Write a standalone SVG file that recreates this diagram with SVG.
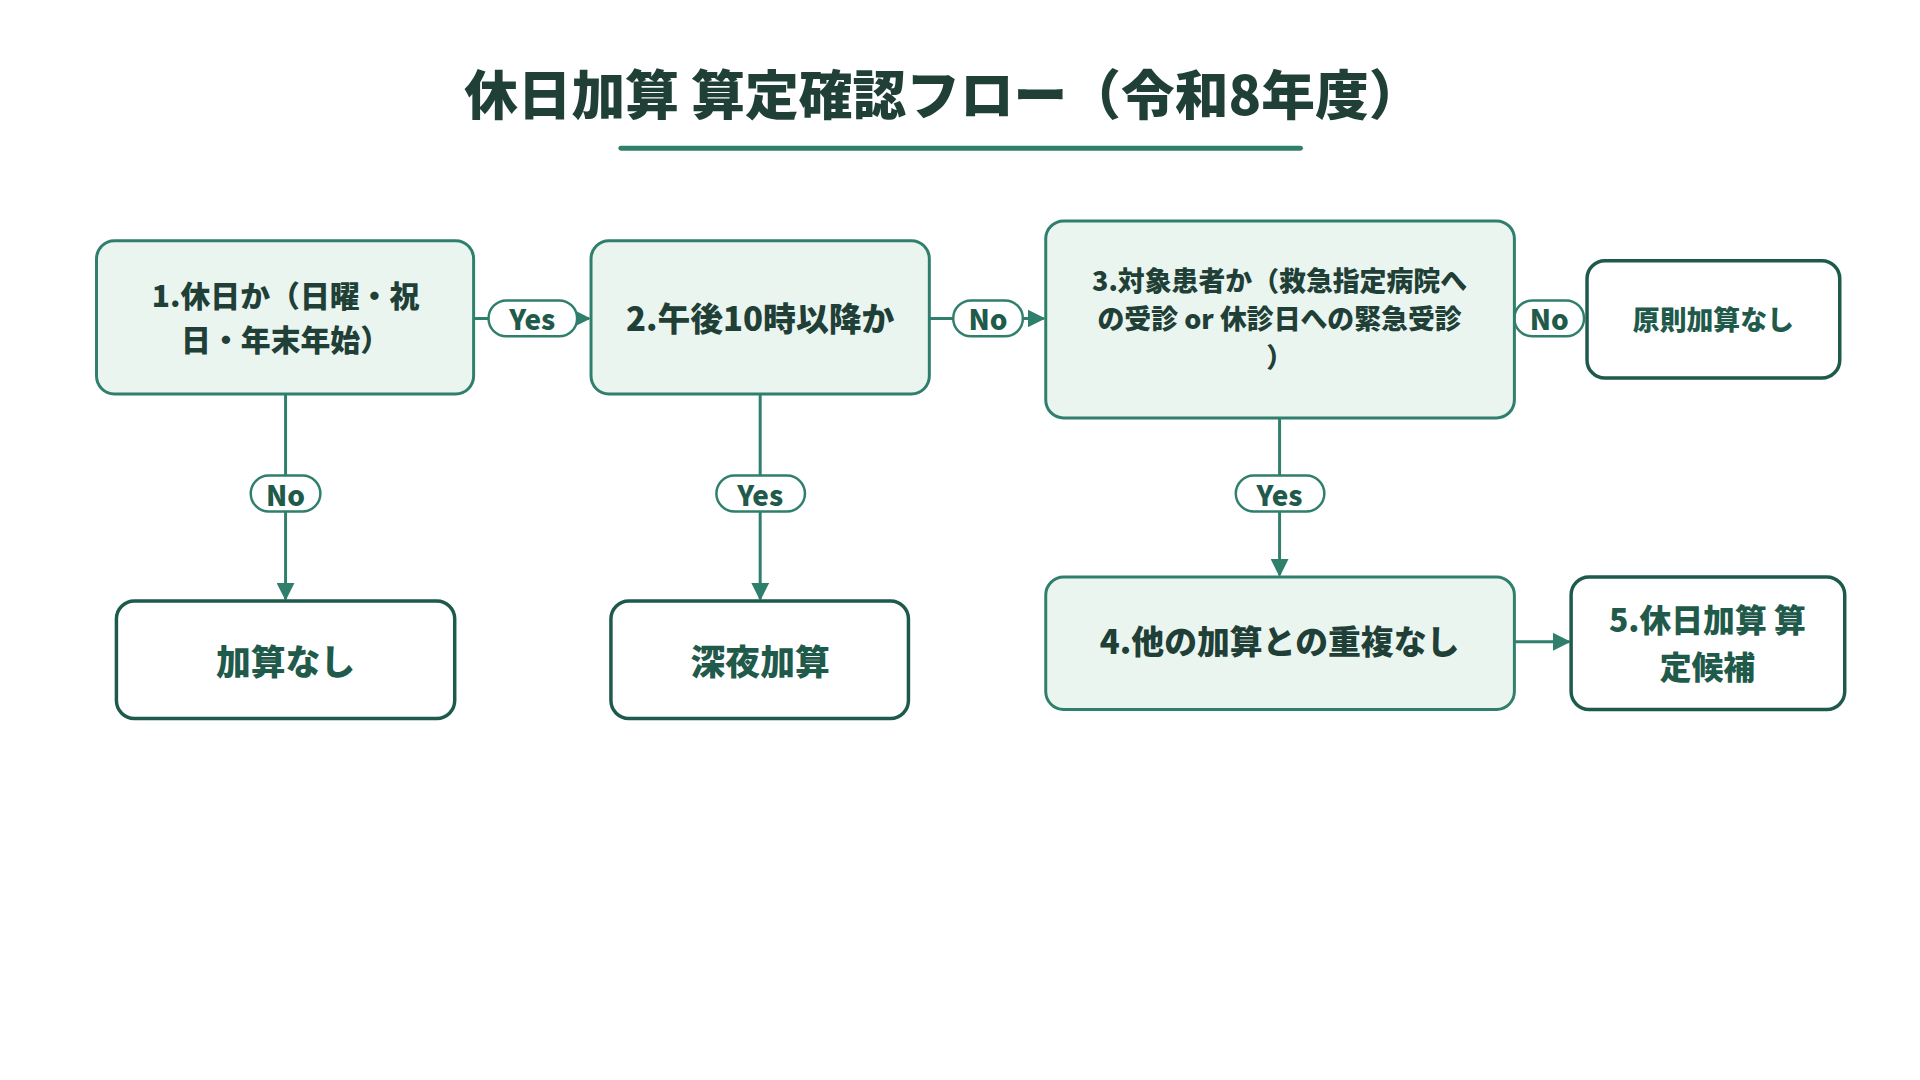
<svg xmlns="http://www.w3.org/2000/svg" width="1920" height="1080" viewBox="0 0 1920 1080">
<defs>
<style>
text{font-family:"Noto Sans CJK JP","Noto Sans",sans-serif;font-weight:900;fill:#1f3f37;text-anchor:middle;dominant-baseline:central}
.q{fill:#eaf5f0;stroke:#2f7f6c;stroke-width:3}
.r{fill:#fff;stroke:#1e5a4b;stroke-width:3.5}
.c{stroke:#2f7f6c;stroke-width:3;fill:none}
.p{fill:#fff;stroke:#2f7f6c;stroke-width:2.5}
.l{font-size:28px;fill:#1f5a4b}
</style>
<marker id="a" viewBox="0 0 10 10" refX="9" refY="5" markerWidth="6" markerHeight="6" orient="auto"><path d="M0,0L10,5L0,10z" fill="#2f7f6c"/></marker>
</defs>
<rect width="1920" height="1080" fill="#fff"/>
<g transform="scale(0.995)">
<text x="948" y="92" font-size="54">休日加算 算定確認フロー（令和8年度）</text>
<line x1="624" y1="149" x2="1307" y2="149" stroke="#2f7f6c" stroke-width="5" stroke-linecap="round"/>
<g id="connectors">
<line class="c" x1="476" y1="320" x2="592" y2="320" marker-end="url(#a)"/>
<rect class="p" x="491" y="302" width="89" height="36" rx="18"/><text class="l" x="535" y="320">Yes</text>
<line class="c" x1="934" y1="320" x2="1049" y2="320" marker-end="url(#a)"/>
<rect class="p" x="958" y="302" width="70" height="36" rx="18"/><text class="l" x="993" y="320">No</text>
<line class="c" x1="1522" y1="320" x2="1593" y2="320"/>
<rect class="p" x="1522" y="302" width="70" height="36" rx="18"/><text class="l" x="1557" y="320">No</text>
<line class="c" x1="287" y1="396" x2="287" y2="602" marker-end="url(#a)"/>
<rect class="p" x="252" y="478" width="70" height="36" rx="18"/><text class="l" x="287" y="496">No</text>
<line class="c" x1="764" y1="396" x2="764" y2="602" marker-end="url(#a)"/>
<rect class="p" x="720" y="478" width="89" height="36" rx="18"/><text class="l" x="764" y="496">Yes</text>
<line class="c" x1="1286" y1="420" x2="1286" y2="578" marker-end="url(#a)"/>
<rect class="p" x="1242" y="478" width="89" height="36" rx="18"/><text class="l" x="1286" y="496">Yes</text>
<line class="c" x1="1522" y1="645" x2="1577" y2="645" marker-end="url(#a)"/>
</g>
<g id="n1"><rect class="q" x="97" y="242" width="379" height="154" rx="18"/><text x="287" y="295" font-size="30">1.休日か（日曜・祝</text><text x="287" y="340" font-size="30">日・年末年始）</text></g>
<g id="n2"><rect class="q" x="594" y="242" width="340" height="154" rx="18"/><text x="764" y="318" font-size="33">2.午後10時以降か</text></g>
<g id="n3"><rect class="q" x="1051" y="222" width="471" height="198" rx="18"/><text x="1286" y="281" font-size="27">3.対象患者か（救急指定病院へ</text><text x="1286" y="319" font-size="27">の受診 or 休診日への緊急受診</text><text x="1286" y="357" font-size="27">）</text></g>
<g id="n6"><rect class="r" x="1595" y="262" width="254" height="118" rx="18"/><text x="1722" y="320" font-size="27" style="fill:#1f5a4b">原則加算なし</text></g>
<g id="n7"><rect class="r" x="117" y="604" width="340" height="118" rx="18"/><text x="287" y="663" font-size="35" style="fill:#1f5a4b">加算なし</text></g>
<g id="n8"><rect class="r" x="614" y="604" width="299" height="118" rx="18"/><text x="764" y="663" font-size="35" style="fill:#1f5a4b">深夜加算</text></g>
<g id="n4"><rect class="q" x="1051" y="580" width="471" height="133" rx="18"/><text x="1286" y="643" font-size="33">4.他の加算との重複なし</text></g>
<g id="n5"><rect class="r" x="1579" y="580" width="275" height="133" rx="18"/><text x="1716" y="621" font-size="32" style="fill:#1f5a4b">5.休日加算 算</text><text x="1716" y="668" font-size="32" style="fill:#1f5a4b">定候補</text></g>
</g>
</svg>
